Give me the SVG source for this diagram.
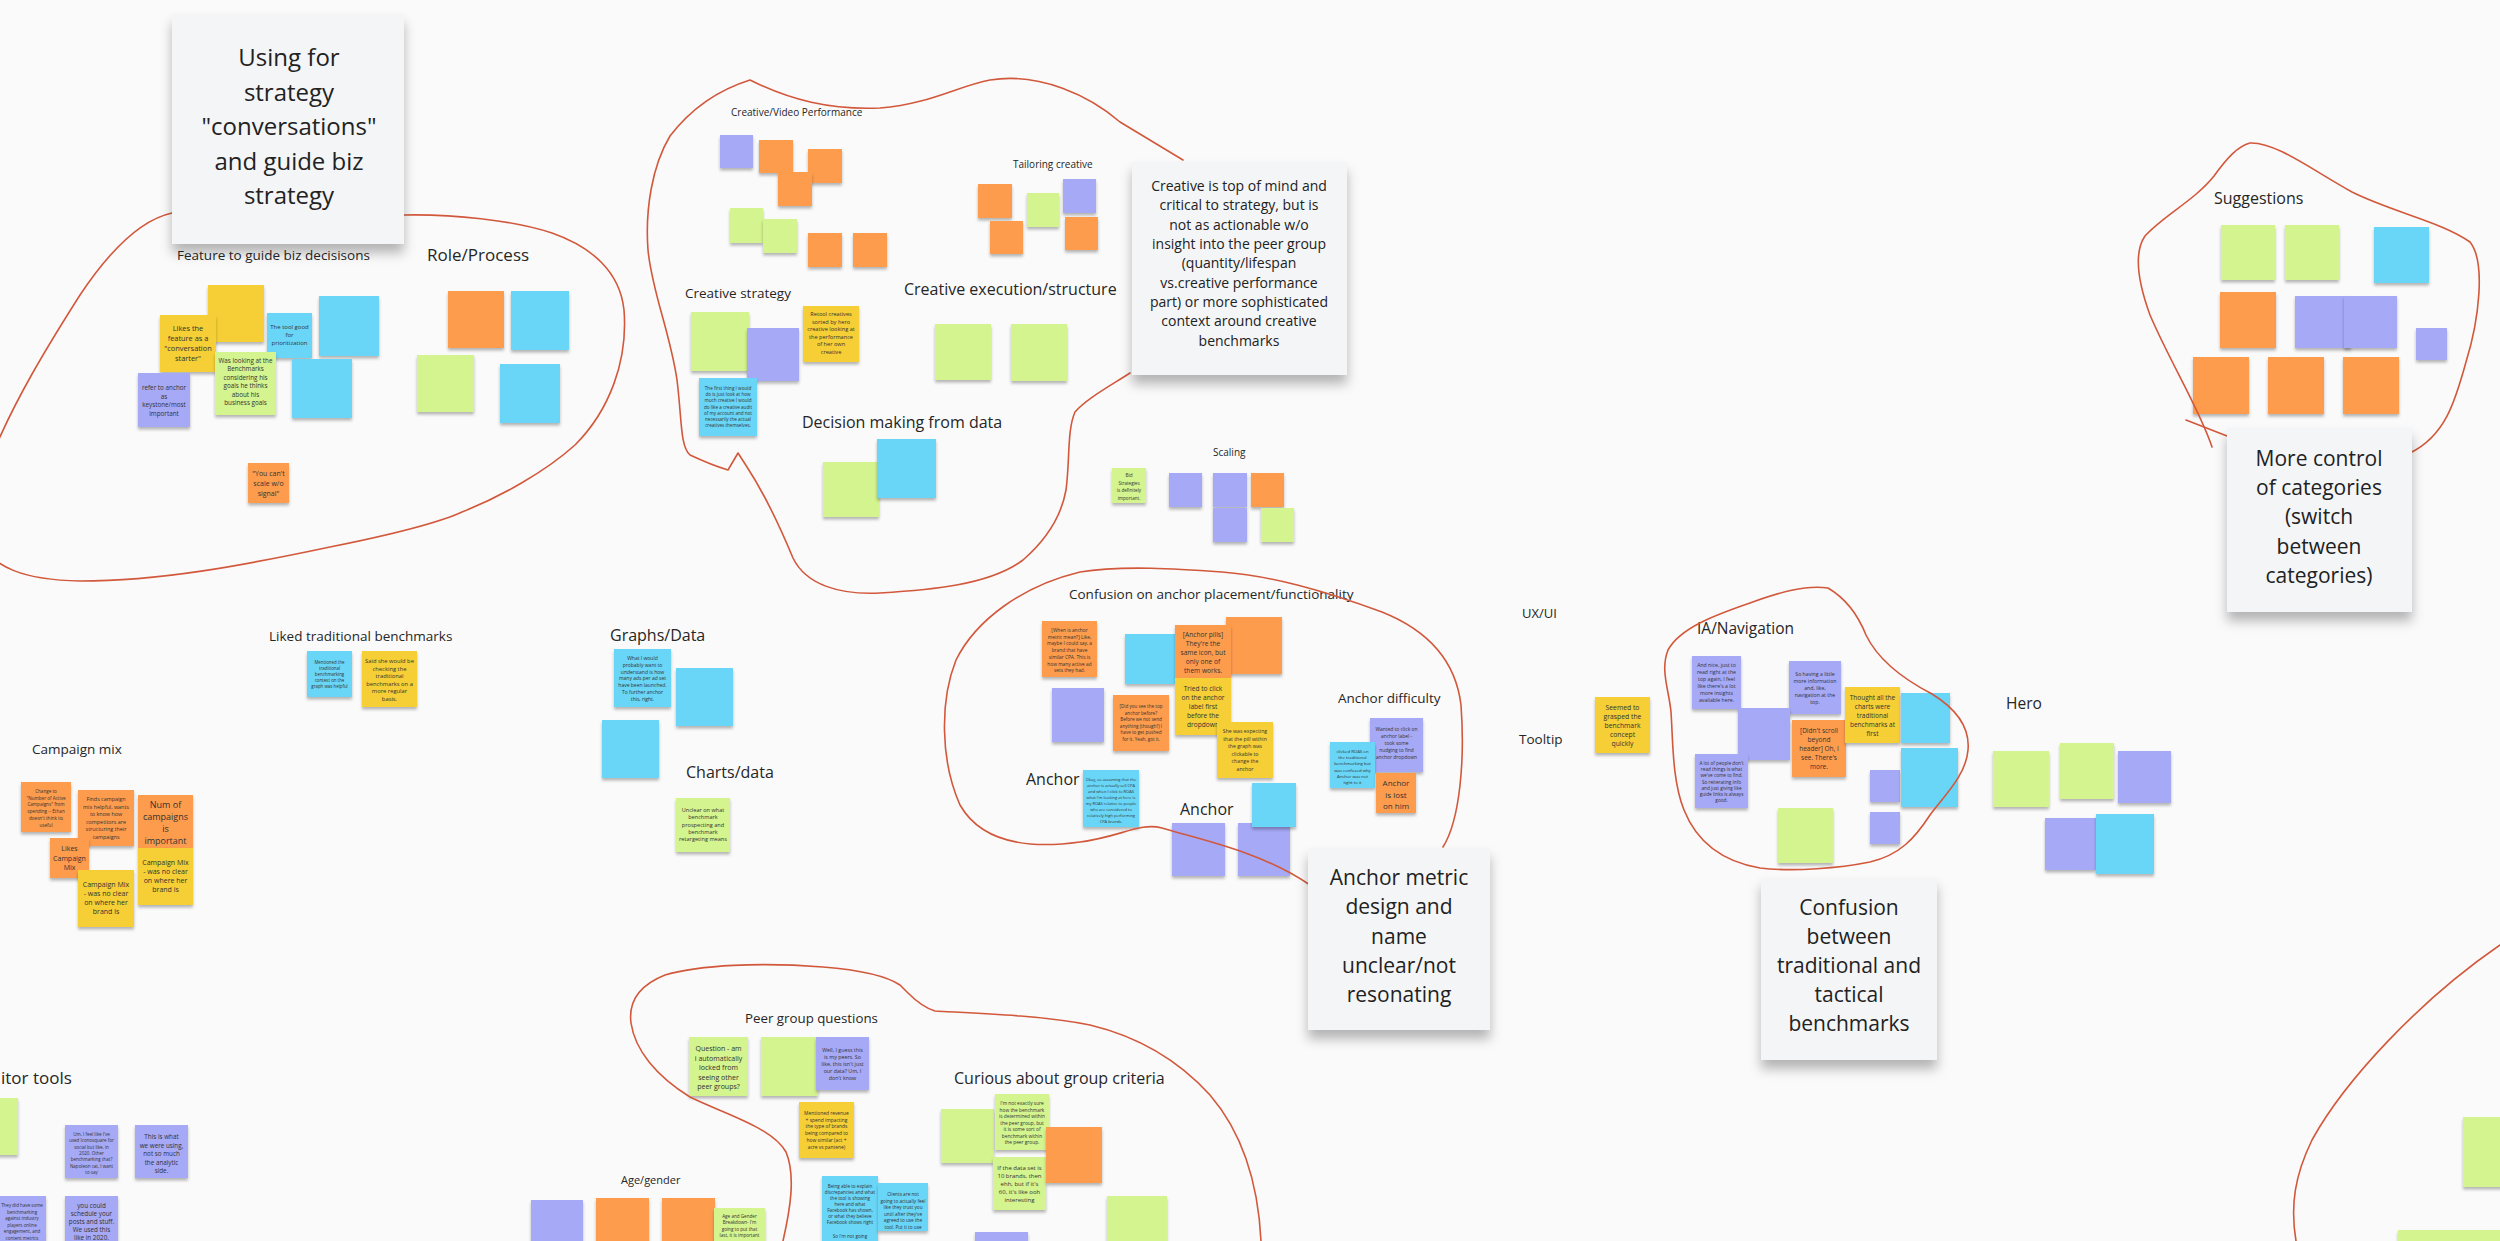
<svg xmlns="http://www.w3.org/2000/svg" width="2500" height="1241" viewBox="0 0 2500 1241">
<defs>
<filter id="sh" x="-20%" y="-20%" width="140%" height="150%"><feDropShadow dx="0" dy="2.5" stdDeviation="1.6" flood-color="#000" flood-opacity="0.28"/></filter>
<filter id="csh" x="-20%" y="-20%" width="140%" height="150%"><feDropShadow dx="0" dy="9" stdDeviation="6" flood-color="#000" flood-opacity="0.28"/></filter>
<style>
.n{filter:url(#sh)}
.y{fill:#f5cf35}.o{fill:#fe9c4d}.g{fill:#d4f48f}.b{fill:#69d6f7}.v{fill:#a6a9f6}
.t{font-family:'Open Sans','Liberation Sans',sans-serif;fill:#333;text-anchor:middle}
.lb{font-family:'Open Sans','Liberation Sans',sans-serif;fill:#262626}
.card{fill:#f4f5f7;filter:url(#csh)}
.ct{font-family:'Open Sans','Liberation Sans',sans-serif;fill:#222;text-anchor:middle}
.loop{fill:none;stroke:#d2583c;stroke-width:1.6;stroke-linecap:round;stroke-linejoin:round}
</style>
</defs>
<rect width="2500" height="1241" fill="#fafafa"/>

<!-- Feature / Role cluster -->
<g id="cluster-feature">
<text class="lb" x="177" y="260" font-size="13.5">Feature to guide biz decisisons</text>
<text class="lb" x="427" y="261" font-size="17">Role/Process</text>
<g id="f1"><rect class="n y" x="208" y="285" width="56" height="57"/></g>
<g id="f2"><rect class="n y" x="160" y="315" width="56" height="57"/><text class="t" font-size="7.4"><tspan x="188" y="331">Likes the</tspan><tspan x="188" y="341">feature as a</tspan><tspan x="188" y="351">"conversation</tspan><tspan x="188" y="361">starter"</tspan></text></g>
<g id="f3"><rect class="n b" x="267" y="313" width="45" height="45"/><text class="t" font-size="6"><tspan x="289.5" y="329">The tool good</tspan><tspan x="289.5" y="337">for</tspan><tspan x="289.5" y="345">prioritization</tspan></text></g>
<g id="f4"><rect class="n b" x="319" y="296" width="60" height="60"/></g>
<g id="f5"><rect class="n g" x="215" y="352" width="61" height="63"/><text class="t" font-size="6.3"><tspan x="245.5" y="363">Was looking at the</tspan><tspan x="245.5" y="371.4">Benchmarks</tspan><tspan x="245.5" y="379.8">considering his</tspan><tspan x="245.5" y="388.2">goals he thinks</tspan><tspan x="245.5" y="396.6">about his</tspan><tspan x="245.5" y="405">business goals</tspan></text></g>
<g id="f6"><rect class="n v" x="138" y="373" width="52" height="54"/><text class="t" font-size="6.3"><tspan x="164" y="390">refer to anchor</tspan><tspan x="164" y="398.5">as</tspan><tspan x="164" y="407">keystone/most</tspan><tspan x="164" y="415.5">important</tspan></text></g>
<g id="f7"><rect class="n b" x="292" y="359" width="60" height="59"/></g>
<g id="f8"><rect class="n o" x="248" y="463" width="41" height="40"/><text class="t" font-size="7"><tspan x="268.5" y="476">"You can't</tspan><tspan x="268.5" y="486">scale w/o</tspan><tspan x="268.5" y="496">signal"</tspan></text></g>
<g id="r1"><rect class="n o" x="448" y="291" width="56" height="57"/></g>
<g id="r2"><rect class="n b" x="511" y="291" width="58" height="59"/></g>
<g id="r3"><rect class="n g" x="417" y="355" width="57" height="57"/></g>
<g id="r4"><rect class="n b" x="500" y="364" width="60" height="59"/></g>
</g>

<!-- Creative cluster -->
<g id="cluster-creative">
<text class="lb" x="731" y="115.5" font-size="10">Creative/Video Performance</text>
<text class="lb" x="1013" y="167.5" font-size="10">Tailoring creative</text>
<text class="lb" x="685" y="298" font-size="13.5">Creative strategy</text>
<text class="lb" x="904" y="294.5" font-size="16">Creative execution/structure</text>
<text class="lb" x="802" y="428" font-size="16">Decision making from data</text>
<g id="c1"><rect class="n v" x="720" y="135" width="33" height="33"/></g>
<g id="c2"><rect class="n o" x="759" y="140" width="34" height="33"/></g>
<g id="c3"><rect class="n o" x="808" y="149" width="34" height="34"/></g>
<g id="c4"><rect class="n o" x="778" y="172" width="34" height="34"/></g>
<g id="c5"><rect class="n g" x="730" y="208" width="33" height="35"/></g>
<g id="c6"><rect class="n g" x="763" y="219" width="34" height="34"/></g>
<g id="c7"><rect class="n o" x="808" y="233" width="34" height="34"/></g>
<g id="c8"><rect class="n o" x="853" y="233" width="34" height="34"/></g>
<g id="t1"><rect class="n o" x="978" y="184" width="34" height="34"/></g>
<g id="t2"><rect class="n o" x="990" y="221" width="33" height="33"/></g>
<g id="t3"><rect class="n g" x="1027" y="193" width="32" height="34"/></g>
<g id="t4"><rect class="n v" x="1063" y="179" width="33" height="34"/></g>
<g id="t5"><rect class="n o" x="1065" y="217" width="33" height="33"/></g>
<g id="s1"><rect class="n g" x="691" y="312" width="58" height="59"/></g>
<g id="s2"><rect class="n v" x="747" y="328" width="52" height="53"/></g>
<g id="s3"><rect class="n y" x="803" y="306" width="56" height="56"/><text class="t" font-size="5.6"><tspan x="831" y="316">Retool creatives</tspan><tspan x="831" y="323.5">sorted by hero</tspan><tspan x="831" y="331">creative looking at</tspan><tspan x="831" y="338.5">the performance</tspan><tspan x="831" y="346">of her own</tspan><tspan x="831" y="353.5">creative</tspan></text></g>
<g id="s4"><rect class="n b" x="699" y="378" width="58" height="58"/><text class="t" font-size="4.6"><tspan x="728" y="390">The first thing I would</tspan><tspan x="728" y="396.2">do is just look at how</tspan><tspan x="728" y="402.4">much creative I would</tspan><tspan x="728" y="408.6">do like a creative audit</tspan><tspan x="728" y="414.8">of my account and not</tspan><tspan x="728" y="421">necessarily the actual</tspan><tspan x="728" y="427.2">creatives themselves.</tspan></text></g>
<g id="e1"><rect class="n g" x="935" y="324" width="56" height="56"/></g>
<g id="e2"><rect class="n g" x="1011" y="324" width="56" height="57"/></g>
<g id="d1"><rect class="n g" x="823" y="462" width="56" height="55"/></g>
<g id="d2"><rect class="n b" x="877" y="439" width="59" height="59"/></g>
</g>

<!-- Scaling -->
<g id="cluster-scaling">
<text class="lb" x="1213" y="456" font-size="10">Scaling</text>
<g id="sc1"><rect class="n g" x="1112" y="468" width="34" height="35"/><text class="t" font-size="4.6"><tspan x="1129" y="477">Bid</tspan><tspan x="1129" y="484.5">Strategies</tspan><tspan x="1129" y="492">is definitely</tspan><tspan x="1129" y="499.5">important.</tspan></text></g>
<g id="sc2"><rect class="n v" x="1169" y="473" width="33" height="34"/></g>
<g id="sc3"><rect class="n v" x="1213" y="473" width="34" height="34"/></g>
<g id="sc4"><rect class="n o" x="1251" y="473" width="33" height="34"/></g>
<g id="sc5"><rect class="n v" x="1213" y="508" width="34" height="34"/></g>
<g id="sc6"><rect class="n g" x="1261" y="508" width="33" height="34"/></g>
</g>

<!-- Suggestions -->
<g id="cluster-suggestions">
<text class="lb" x="2214" y="204" font-size="16">Suggestions</text>
<g id="g1"><rect class="n g" x="2221" y="225" width="54" height="55"/></g>
<g id="g2"><rect class="n g" x="2285" y="225" width="54" height="55"/></g>
<g id="g3"><rect class="n b" x="2374" y="227" width="55" height="56"/></g>
<g id="g4"><rect class="n o" x="2220" y="292" width="56" height="56"/></g>
<g id="g5"><rect class="n v" x="2295" y="296" width="56" height="52"/></g>
<g id="g6"><rect class="n v" x="2344" y="296" width="53" height="52"/></g>
<g id="g7"><rect class="n v" x="2416" y="328" width="31" height="32"/></g>
<g id="g8"><rect class="n o" x="2193" y="357" width="56" height="57"/></g>
<g id="g9"><rect class="n o" x="2268" y="357" width="56" height="57"/></g>
<g id="g10"><rect class="n o" x="2343" y="357" width="56" height="57"/></g>
</g>

<!-- Liked traditional / Graphs / Charts / Campaign mix -->
<g id="cluster-middle-left">
<text class="lb" x="269" y="641" font-size="13.5">Liked traditional benchmarks</text>
<g id="lt1"><rect class="n b" x="307" y="651" width="45" height="46"/><text class="t" font-size="4.4"><tspan x="329.5" y="664">Mentioned the</tspan><tspan x="329.5" y="670">traditional</tspan><tspan x="329.5" y="676">benchmarking</tspan><tspan x="329.5" y="682">context on the</tspan><tspan x="329.5" y="688">graph was helpful</tspan></text></g>
<g id="lt2"><rect class="n y" x="362" y="651" width="55" height="56"/><text class="t" font-size="5.8"><tspan x="389.5" y="663">Said she would be</tspan><tspan x="389.5" y="670.5">checking the</tspan><tspan x="389.5" y="678">traditional</tspan><tspan x="389.5" y="685.5">benchmarks on a</tspan><tspan x="389.5" y="693">more regular</tspan><tspan x="389.5" y="700.5">basis.</tspan></text></g>
<text class="lb" x="610" y="641" font-size="16">Graphs/Data</text>
<g id="gd1"><rect class="n b" x="614" y="649" width="57" height="58"/><text class="t" font-size="5"><tspan x="642.5" y="660">What I would</tspan><tspan x="642.5" y="666.8">probably want to</tspan><tspan x="642.5" y="673.6">understand is how</tspan><tspan x="642.5" y="680.4">many ads per ad set</tspan><tspan x="642.5" y="687.2">have been launched.</tspan><tspan x="642.5" y="694">To further anchor</tspan><tspan x="642.5" y="700.8">this, right.</tspan></text></g>
<g id="gd2"><rect class="n b" x="676" y="668" width="57" height="58"/></g>
<g id="gd3"><rect class="n b" x="602" y="720" width="57" height="58"/></g>
<text class="lb" x="686" y="778" font-size="16">Charts/data</text>
<g id="cd1"><rect class="n g" x="676" y="798" width="54" height="54"/><text class="t" font-size="5.6"><tspan x="703" y="812">Unclear on what</tspan><tspan x="703" y="819.3">benchmark</tspan><tspan x="703" y="826.6">prospecting and</tspan><tspan x="703" y="833.9">benchmark</tspan><tspan x="703" y="841.2">retargeting means</tspan></text></g>
<text class="lb" x="32" y="754" font-size="13.5">Campaign mix</text>
<g id="cm1"><rect class="n o" x="21" y="782" width="50" height="50"/><text class="t" font-size="4.6"><tspan x="46" y="793">Change to</tspan><tspan x="46" y="799.7">"Number of Active</tspan><tspan x="46" y="806.4">Campaigns" from</tspan><tspan x="46" y="813.1">spending -- Ethan</tspan><tspan x="46" y="819.8">doesn't think its</tspan><tspan x="46" y="826.5">useful</tspan></text></g>
<g id="cm2"><rect class="n o" x="78" y="790" width="56" height="56"/><text class="t" font-size="5.4"><tspan x="106" y="801">Finds campaign</tspan><tspan x="106" y="808.5">mix helpful, wants</tspan><tspan x="106" y="816">to know how</tspan><tspan x="106" y="823.5">competitors are</tspan><tspan x="106" y="831">structuring their</tspan><tspan x="106" y="838.5">campaigns</tspan></text></g>
<g id="cm3"><rect class="n o" x="138" y="795" width="55" height="53"/><text class="t" font-size="9"><tspan x="165.5" y="808">Num of</tspan><tspan x="165.5" y="820">campaigns</tspan><tspan x="165.5" y="832">is</tspan><tspan x="165.5" y="844">important</tspan></text></g>
<g id="cm5"><rect class="n y" x="138" y="848" width="55" height="57"/><text class="t" font-size="7"><tspan x="165.5" y="865">Campaign Mix</tspan><tspan x="165.5" y="874">- was no clear</tspan><tspan x="165.5" y="883">on where her</tspan><tspan x="165.5" y="892">brand is</tspan></text></g>
<g id="cm4"><rect class="n o" x="50" y="838" width="39" height="40"/><text class="t" font-size="7"><tspan x="69.5" y="851">Likes</tspan><tspan x="69.5" y="860.5">Campaign</tspan><tspan x="69.5" y="870">Mix</tspan></text></g>
<g id="cm6"><rect class="n y" x="78" y="870" width="56" height="57"/><text class="t" font-size="7"><tspan x="106" y="887">Campaign Mix</tspan><tspan x="106" y="896">- was no clear</tspan><tspan x="106" y="905">on where her</tspan><tspan x="106" y="914">brand is</tspan></text></g>
</g>

<!-- Anchor cluster -->
<g id="cluster-anchor">
<text class="lb" x="1069" y="599" font-size="13.5">Confusion on anchor placement/functionality</text>
<g id="a1"><rect class="n o" x="1042" y="621" width="55" height="56"/><text class="t" font-size="4.8"><tspan x="1069.5" y="632">[When is anchor</tspan><tspan x="1069.5" y="638.7">metric mean?] Like,</tspan><tspan x="1069.5" y="645.4">maybe I could say, a</tspan><tspan x="1069.5" y="652.1">brand that have</tspan><tspan x="1069.5" y="658.8">similar CPA. This is</tspan><tspan x="1069.5" y="665.5">how many active ad</tspan><tspan x="1069.5" y="672.2">sets they had.</tspan></text></g>
<g id="a2"><rect class="n b" x="1125" y="634" width="50" height="50"/></g>
<g id="a4"><rect class="n o" x="1226" y="617" width="56" height="57"/></g>
<g id="a3"><rect class="n o" x="1175" y="625" width="56" height="53"/><text class="t" font-size="6.6"><tspan x="1203" y="637">[Anchor pills]</tspan><tspan x="1203" y="646">They're the</tspan><tspan x="1203" y="655">same icon, but</tspan><tspan x="1203" y="664">only one of</tspan><tspan x="1203" y="673">them works.</tspan></text></g>
<g id="a5"><rect class="n v" x="1052" y="688" width="52" height="54"/></g>
<g id="a6"><rect class="n o" x="1113" y="695" width="56" height="56"/><text class="t" font-size="4.6"><tspan x="1141" y="708">[Did you see the top</tspan><tspan x="1141" y="714.5">anchor before?</tspan><tspan x="1141" y="721">Before we not send</tspan><tspan x="1141" y="727.5">anything (though?) I</tspan><tspan x="1141" y="734">have to get pushed</tspan><tspan x="1141" y="740.5">for it. Yeah, got it.</tspan></text></g>
<g id="a7"><rect class="n y" x="1175" y="678" width="56" height="57"/><text class="t" font-size="6.6"><tspan x="1203" y="691">Tried to click</tspan><tspan x="1203" y="700">on the anchor</tspan><tspan x="1203" y="709">label first</tspan><tspan x="1203" y="718">before the</tspan><tspan x="1203" y="727">dropdown</tspan></text></g>
<g id="a8"><rect class="n y" x="1217" y="722" width="56" height="56"/><text class="t" font-size="5.2"><tspan x="1245" y="733">She was expecting</tspan><tspan x="1245" y="740.6">that the pill within</tspan><tspan x="1245" y="748.2">the graph was</tspan><tspan x="1245" y="755.8">clickable to</tspan><tspan x="1245" y="763.4">change the</tspan><tspan x="1245" y="771">anchor</tspan></text></g>
<text class="lb" x="1026" y="785" font-size="16">Anchor</text>
<g id="a9"><rect class="n b" x="1083" y="770" width="56" height="57"/><text class="t" font-size="4"><tspan x="1111" y="781">Okay, so assuming that the</tspan><tspan x="1111" y="787">anchor is actually sell CPA</tspan><tspan x="1111" y="793">and when I click to ROAS</tspan><tspan x="1111" y="799">what I'm looking at here is</tspan><tspan x="1111" y="805">my ROAS relative to people</tspan><tspan x="1111" y="811">who are considered to</tspan><tspan x="1111" y="817">relatively high performing</tspan><tspan x="1111" y="823">CPA brands.</tspan></text></g>
<text class="lb" x="1180" y="815" font-size="16">Anchor</text>
<g id="a10"><rect class="n v" x="1172" y="823" width="53" height="53"/></g>
<g id="a11"><rect class="n v" x="1238" y="823" width="52" height="53"/></g>
<g id="a12"><rect class="n b" x="1252" y="783" width="44" height="44"/></g>
<text class="lb" x="1338" y="703" font-size="13.5">Anchor difficulty</text>
<g id="a14"><rect class="n v" x="1370" y="718" width="53" height="54"/><text class="t" font-size="4.9"><tspan x="1396.5" y="731">Wanted to click on</tspan><tspan x="1396.5" y="738">anchor label -</tspan><tspan x="1396.5" y="745">took some</tspan><tspan x="1396.5" y="752">nudging to find</tspan><tspan x="1396.5" y="759">anchor dropdown</tspan></text></g>
<g id="a13"><rect class="n b" x="1330" y="742" width="45" height="46"/><text class="t" font-size="4.3"><tspan x="1352.5" y="753">clicked ROAS on</tspan><tspan x="1352.5" y="759.2">the traditional</tspan><tspan x="1352.5" y="765.4">benchmarking but</tspan><tspan x="1352.5" y="771.6">was confused why</tspan><tspan x="1352.5" y="777.8">Anchor was not</tspan><tspan x="1352.5" y="784">tight to it</tspan></text></g>
<g id="a15"><rect class="n o" x="1376" y="773" width="40" height="40"/><text class="t" font-size="8"><tspan x="1396" y="786">Anchor</tspan><tspan x="1396" y="797.5">is lost</tspan><tspan x="1396" y="809">on him</tspan></text></g>
</g>

<!-- UX/UI, IA/Navigation, Hero -->
<g id="cluster-ux">
<text class="lb" x="1522" y="618" font-size="13">UX/UI</text>
<text class="lb" x="1519" y="744" font-size="13.5">Tooltip</text>
<g id="u1"><rect class="n y" x="1595" y="697" width="55" height="56"/><text class="t" font-size="6.8"><tspan x="1622.5" y="710">Seemed to</tspan><tspan x="1622.5" y="719">grasped the</tspan><tspan x="1622.5" y="728">benchmark</tspan><tspan x="1622.5" y="737">concept</tspan><tspan x="1622.5" y="746">quickly</tspan></text></g>
<text class="lb" x="1697" y="634" font-size="15.5">IA/Navigation</text>
<g id="ia1"><rect class="n v" x="1692" y="656" width="49" height="53"/><text class="t" font-size="5.2"><tspan x="1716.5" y="667">And nice, just to</tspan><tspan x="1716.5" y="674">read right at the</tspan><tspan x="1716.5" y="681">top again, I feel</tspan><tspan x="1716.5" y="688">like there's a lot</tspan><tspan x="1716.5" y="695">more insights</tspan><tspan x="1716.5" y="702">available here.</tspan></text></g>
<g id="ia2"><rect class="n v" x="1789" y="661" width="52" height="53"/><text class="t" font-size="5.2"><tspan x="1815" y="676">So having a little</tspan><tspan x="1815" y="683">more information</tspan><tspan x="1815" y="690">and, like,</tspan><tspan x="1815" y="697">navigation at the</tspan><tspan x="1815" y="704">top.</tspan></text></g>
<g id="ia3"><rect class="n v" x="1738" y="708" width="52" height="52"/></g>
<g id="ia4"><rect class="n o" x="1792" y="720" width="54" height="57"/><text class="t" font-size="6.5"><tspan x="1819" y="733">[Didn't scroll</tspan><tspan x="1819" y="742">beyond</tspan><tspan x="1819" y="751">header] Oh, I</tspan><tspan x="1819" y="760">see. There's</tspan><tspan x="1819" y="769">more.</tspan></text></g>
<g id="ia5"><rect class="n y" x="1845" y="687" width="55" height="56"/><text class="t" font-size="6.5"><tspan x="1872.5" y="700">Thought all the</tspan><tspan x="1872.5" y="709">charts were</tspan><tspan x="1872.5" y="718">traditional</tspan><tspan x="1872.5" y="727">benchmarks at</tspan><tspan x="1872.5" y="736">first</tspan></text></g>
<g id="ia6"><rect class="n b" x="1901" y="693" width="49" height="50"/></g>
<g id="ia7"><rect class="n v" x="1695" y="754" width="53" height="54"/><text class="t" font-size="4.7"><tspan x="1721.5" y="765">A lot of people don't</tspan><tspan x="1721.5" y="771.2">read things is what</tspan><tspan x="1721.5" y="777.4">we've come to find.</tspan><tspan x="1721.5" y="783.6">So reiterating info</tspan><tspan x="1721.5" y="789.8">and just giving like</tspan><tspan x="1721.5" y="796">guide links is always</tspan><tspan x="1721.5" y="802.2">good.</tspan></text></g>
<g id="ia8"><rect class="n v" x="1870" y="770" width="30" height="32"/></g>
<g id="ia9"><rect class="n b" x="1901" y="748" width="57" height="59"/></g>
<g id="ia10"><rect class="n g" x="1778" y="808" width="55" height="55"/></g>
<g id="ia11"><rect class="n v" x="1870" y="812" width="30" height="32"/></g>
<text class="lb" x="2006" y="709" font-size="15.5">Hero</text>
<g id="h1"><rect class="n g" x="1993" y="751" width="56" height="56"/></g>
<g id="h2"><rect class="n g" x="2060" y="743" width="54" height="56"/></g>
<g id="h3"><rect class="n v" x="2118" y="751" width="53" height="52"/></g>
<g id="h4"><rect class="n v" x="2045" y="818" width="51" height="52"/></g>
<g id="h5"><rect class="n b" x="2096" y="814" width="58" height="60"/></g>
</g>

<!-- Bottom: competitor tools, peer group, age/gender, criteria -->
<g id="cluster-bottom">
<text class="lb" x="1" y="1084" font-size="17">itor tools</text>
<g id="ct1"><rect class="n g" x="-10" y="1098" width="28" height="57"/></g>
<g id="ct2"><rect class="n v" x="65" y="1125" width="53" height="53"/><text class="t" font-size="4.5"><tspan x="91.5" y="1136">Um, I feel like I've</tspan><tspan x="91.5" y="1142.3">used Iconosquare for</tspan><tspan x="91.5" y="1148.6">social but like, in</tspan><tspan x="91.5" y="1154.9">2020. Other</tspan><tspan x="91.5" y="1161.2">benchmarking that?</tspan><tspan x="91.5" y="1167.5">Napoleon cat, I want</tspan><tspan x="91.5" y="1173.8">to say</tspan></text></g>
<g id="ct3"><rect class="n v" x="135" y="1125" width="53" height="53"/><text class="t" font-size="6.3"><tspan x="161.5" y="1139">This is what</tspan><tspan x="161.5" y="1147.5">we were using,</tspan><tspan x="161.5" y="1156">not so much</tspan><tspan x="161.5" y="1164.5">the analytic</tspan><tspan x="161.5" y="1173">side.</tspan></text></g>
<g id="ct4"><rect class="n v" x="-10" y="1196" width="56" height="60"/><text class="t" font-size="4.5"><tspan x="22" y="1207">They did have some</tspan><tspan x="22" y="1213.5">benchmarking</tspan><tspan x="22" y="1220">against industry</tspan><tspan x="22" y="1226.5">players online</tspan><tspan x="22" y="1233">engagement, and</tspan><tspan x="22" y="1239.5">content metrics</tspan></text></g>
<g id="ct5"><rect class="n v" x="65" y="1196" width="53" height="55"/><text class="t" font-size="6.3"><tspan x="91.5" y="1207.5">you could</tspan><tspan x="91.5" y="1215.5">schedule your</tspan><tspan x="91.5" y="1223.5">posts and stuff.</tspan><tspan x="91.5" y="1231.5">We used this</tspan><tspan x="91.5" y="1239.5">like in 2020.</tspan></text></g>
<text class="lb" x="745" y="1023" font-size="13.3">Peer group questions</text>
<g id="p1"><rect class="n g" x="689" y="1037" width="59" height="59"/><text class="t" font-size="7"><tspan x="718.5" y="1051">Question - am</tspan><tspan x="718.5" y="1060.5">i automatically</tspan><tspan x="718.5" y="1070">locked from</tspan><tspan x="718.5" y="1079.5">seeing other</tspan><tspan x="718.5" y="1089">peer groups?</tspan></text></g>
<g id="p2"><rect class="n g" x="761" y="1037" width="57" height="59"/></g>
<g id="p3"><rect class="n v" x="816" y="1037" width="53" height="53"/><text class="t" font-size="5.3"><tspan x="842.5" y="1052">Well, I guess this</tspan><tspan x="842.5" y="1059">is my peers. So</tspan><tspan x="842.5" y="1066">like, this isn't just</tspan><tspan x="842.5" y="1073">our data? Um, I</tspan><tspan x="842.5" y="1080">don't know</tspan></text></g>
<g id="p4"><rect class="n y" x="799" y="1102" width="55" height="56"/><text class="t" font-size="4.9"><tspan x="826.5" y="1115">Mentioned revenue</tspan><tspan x="826.5" y="1121.7">+ spend impacting</tspan><tspan x="826.5" y="1128.4">the type of brands</tspan><tspan x="826.5" y="1135.1">being compared to</tspan><tspan x="826.5" y="1141.8">how similar (act +</tspan><tspan x="826.5" y="1148.5">acre vs pantene)</tspan></text></g>
<text class="lb" x="621" y="1184" font-size="11">Age/gender</text>
<g id="ag1"><rect class="n v" x="531" y="1200" width="52" height="50"/></g>
<g id="ag2"><rect class="n o" x="596" y="1198" width="53" height="50"/></g>
<g id="ag3"><rect class="n o" x="662" y="1198" width="53" height="50"/></g>
<g id="ag4"><rect class="n g" x="714" y="1208" width="51" height="45"/><text class="t" font-size="4.6"><tspan x="739.5" y="1218">Age and Gender</tspan><tspan x="739.5" y="1224.3">Breakdown- I'm</tspan><tspan x="739.5" y="1230.6">going to put that</tspan><tspan x="739.5" y="1236.9">last, it is important</tspan></text></g>
<text class="lb" x="954" y="1084" font-size="16">Curious about group criteria</text>
<g id="cu1"><rect class="n b" x="822" y="1176" width="56" height="75"/><text class="t" font-size="4.6"><tspan x="850" y="1188">Being able to explain</tspan><tspan x="850" y="1194">discrepancies and what</tspan><tspan x="850" y="1200">the tool is showing</tspan><tspan x="850" y="1206">here and what</tspan><tspan x="850" y="1212">Facebook has shown,</tspan><tspan x="850" y="1218">or what they believe</tspan><tspan x="850" y="1224">Facebook shows right</tspan><tspan x="850" y="1238">So I'm not going</tspan></text></g>
<g id="cu2"><rect class="n b" x="878" y="1183" width="50" height="48"/><text class="t" font-size="4.7"><tspan x="903" y="1196">Clients are not</tspan><tspan x="903" y="1202.5">going to actually feel</tspan><tspan x="903" y="1209">like they trust you</tspan><tspan x="903" y="1215.5">until after they've</tspan><tspan x="903" y="1222">agreed to use the</tspan><tspan x="903" y="1228.5">tool. Put it to use</tspan></text></g>
<g id="cu3"><rect class="n g" x="941" y="1109" width="53" height="54"/></g>
<g id="cu4"><rect class="n g" x="995" y="1094" width="54" height="56"/><text class="t" font-size="4.8"><tspan x="1022" y="1105">I'm not exactly sure</tspan><tspan x="1022" y="1111.5">how the benchmark</tspan><tspan x="1022" y="1118">is determined within</tspan><tspan x="1022" y="1124.5">the peer group, but</tspan><tspan x="1022" y="1131">it is some sort of</tspan><tspan x="1022" y="1137.5">benchmark within</tspan><tspan x="1022" y="1144">the peer group.</tspan></text></g>
<g id="cu5"><rect class="n g" x="993" y="1157" width="53" height="53"/><text class="t" font-size="6"><tspan x="1019.5" y="1170">If the data set is</tspan><tspan x="1019.5" y="1178">10 brands, then</tspan><tspan x="1019.5" y="1186">ehh, but if it's</tspan><tspan x="1019.5" y="1194">60, it's like ooh</tspan><tspan x="1019.5" y="1202">interesting</tspan></text></g>
<g id="cu6"><rect class="n o" x="1046" y="1127" width="56" height="56"/></g>
<g id="cu7"><rect class="n g" x="1107" y="1196" width="60" height="55"/></g>
<g id="cu8"><rect class="n v" x="975" y="1232" width="53" height="20"/></g>
<g id="br1"><rect class="n g" x="2463" y="1117" width="45" height="70"/></g>
<g id="br2"><rect class="n g" x="2398" y="1230" width="110" height="20"/></g>
</g>

<!-- Hand-drawn loops -->
<g id="connectors">
<path class="loop" d="M172,213 C140,220 110,250 80,295 C45,350 15,400 -8,455 L-20,540 C-8,568 25,580 80,581 C160,581 240,566 330,547 C395,534 440,522 462,512 C500,497 545,472 575,445 C610,410 628,360 624,310 C620,272 592,247 552,233 C512,220 452,214 404,215"/>
<path class="loop" d="M1183,160 L1120,122 C1090,96 1040,72 990,80 C958,86 930,104 880,108 C830,110 790,100 750,80 C718,90 690,110 670,136 C652,166 645,210 648,250 C652,292 670,332 677,380 C682,420 680,446 690,455 C705,462 718,467 728,470 L738,453 L747,467 C762,490 778,522 793,558 C806,585 840,595 880,593 C930,590 990,585 1023,560 C1046,540 1061,518 1066,490 C1070,460 1067,430 1075,412 C1086,399 1110,386 1130,373"/>
<path class="loop" d="M1443,847 C1460,820 1465,760 1461,705 C1455,655 1422,628 1382,612 C1322,590 1272,576 1222,572 C1180,569 1122,565 1080,572 C1022,586 976,620 956,660 C940,700 940,760 960,805 C980,840 1022,850 1080,842 C1120,837 1140,822 1162,828 C1202,840 1262,852 1310,885"/>
<path class="loop" d="M1828,588 C1845,598 1858,615 1866,635 C1878,660 1905,680 1932,694 C1958,710 1970,728 1968,750 C1966,775 1945,795 1930,815 C1915,838 1900,855 1870,862 C1840,868 1795,872 1760,868 C1725,862 1698,845 1684,810 C1672,780 1673,740 1671,712 C1669,690 1660,670 1668,650 C1680,628 1715,615 1750,603 C1780,592 1805,585 1828,588 Z"/>
<path class="loop" d="M2212,447 C2200,410 2170,362 2150,315 C2138,282 2134,252 2145,236 C2163,216 2195,200 2214,176 C2227,158 2238,146 2250,143 C2276,142 2312,170 2352,192 C2392,212 2442,222 2470,242 C2486,262 2479,320 2466,362 C2455,402 2445,436 2410,453"/>
<path class="loop" d="M2186,420 L2227,436"/>
<path class="loop" d="M783,1241 C790,1210 796,1176 786,1152 C772,1127 722,1113 690,1097 C656,1076 635,1050 631,1023 C628,1000 640,985 665,975 C700,965 760,962 823,967 C860,970 885,975 900,985 L908,993 C915,1000 925,1008 935,1011 C970,1013 1040,1015 1090,1025 C1140,1037 1180,1062 1210,1095 C1240,1130 1258,1180 1261,1241"/>
<path class="loop" d="M2500,945 C2420,1000 2345,1080 2312,1140 C2295,1175 2290,1205 2296,1241"/>
</g>

<!-- Summary cards -->
<g id="card-strategy">
<rect class="card" x="172" y="14" width="232" height="230"/>
<text class="ct" font-size="24"><tspan x="289" y="66">Using for</tspan><tspan x="289" y="100.5">strategy</tspan><tspan x="289" y="135">"conversations"</tspan><tspan x="289" y="169.5">and guide biz</tspan><tspan x="289" y="204">strategy</tspan></text>
</g>
<g id="card-creative">
<rect class="card" x="1132" y="162" width="215" height="213"/>
<text class="ct" font-size="14"><tspan x="1239" y="191">Creative is top of mind and</tspan><tspan x="1239" y="210">critical to strategy, but is</tspan><tspan x="1239" y="230">not as actionable w/o</tspan><tspan x="1239" y="249">insight into the peer group</tspan><tspan x="1239" y="268">(quantity/lifespan</tspan><tspan x="1239" y="288">vs.creative performance</tspan><tspan x="1239" y="307">part) or more sophisticated</tspan><tspan x="1239" y="326">context around creative</tspan><tspan x="1239" y="346">benchmarks</tspan></text>
</g>
<g id="card-categories">
<rect class="card" x="2227" y="428" width="185" height="184"/>
<text class="ct" font-size="21"><tspan x="2319" y="466">More control</tspan><tspan x="2319" y="495">of categories</tspan><tspan x="2319" y="524">(switch</tspan><tspan x="2319" y="554">between</tspan><tspan x="2319" y="583">categories)</tspan></text>
</g>
<g id="card-anchor">
<rect class="card" x="1308" y="848" width="182" height="182"/>
<text class="ct" font-size="21"><tspan x="1399" y="885">Anchor metric</tspan><tspan x="1399" y="914">design and</tspan><tspan x="1399" y="944">name</tspan><tspan x="1399" y="973">unclear/not</tspan><tspan x="1399" y="1002">resonating</tspan></text>
</g>
<g id="card-confusion">
<rect class="card" x="1761" y="878" width="176" height="182"/>
<text class="ct" font-size="21"><tspan x="1849" y="915">Confusion</tspan><tspan x="1849" y="944">between</tspan><tspan x="1849" y="973">traditional and</tspan><tspan x="1849" y="1002">tactical</tspan><tspan x="1849" y="1031">benchmarks</tspan></text>
</g>
</svg>
